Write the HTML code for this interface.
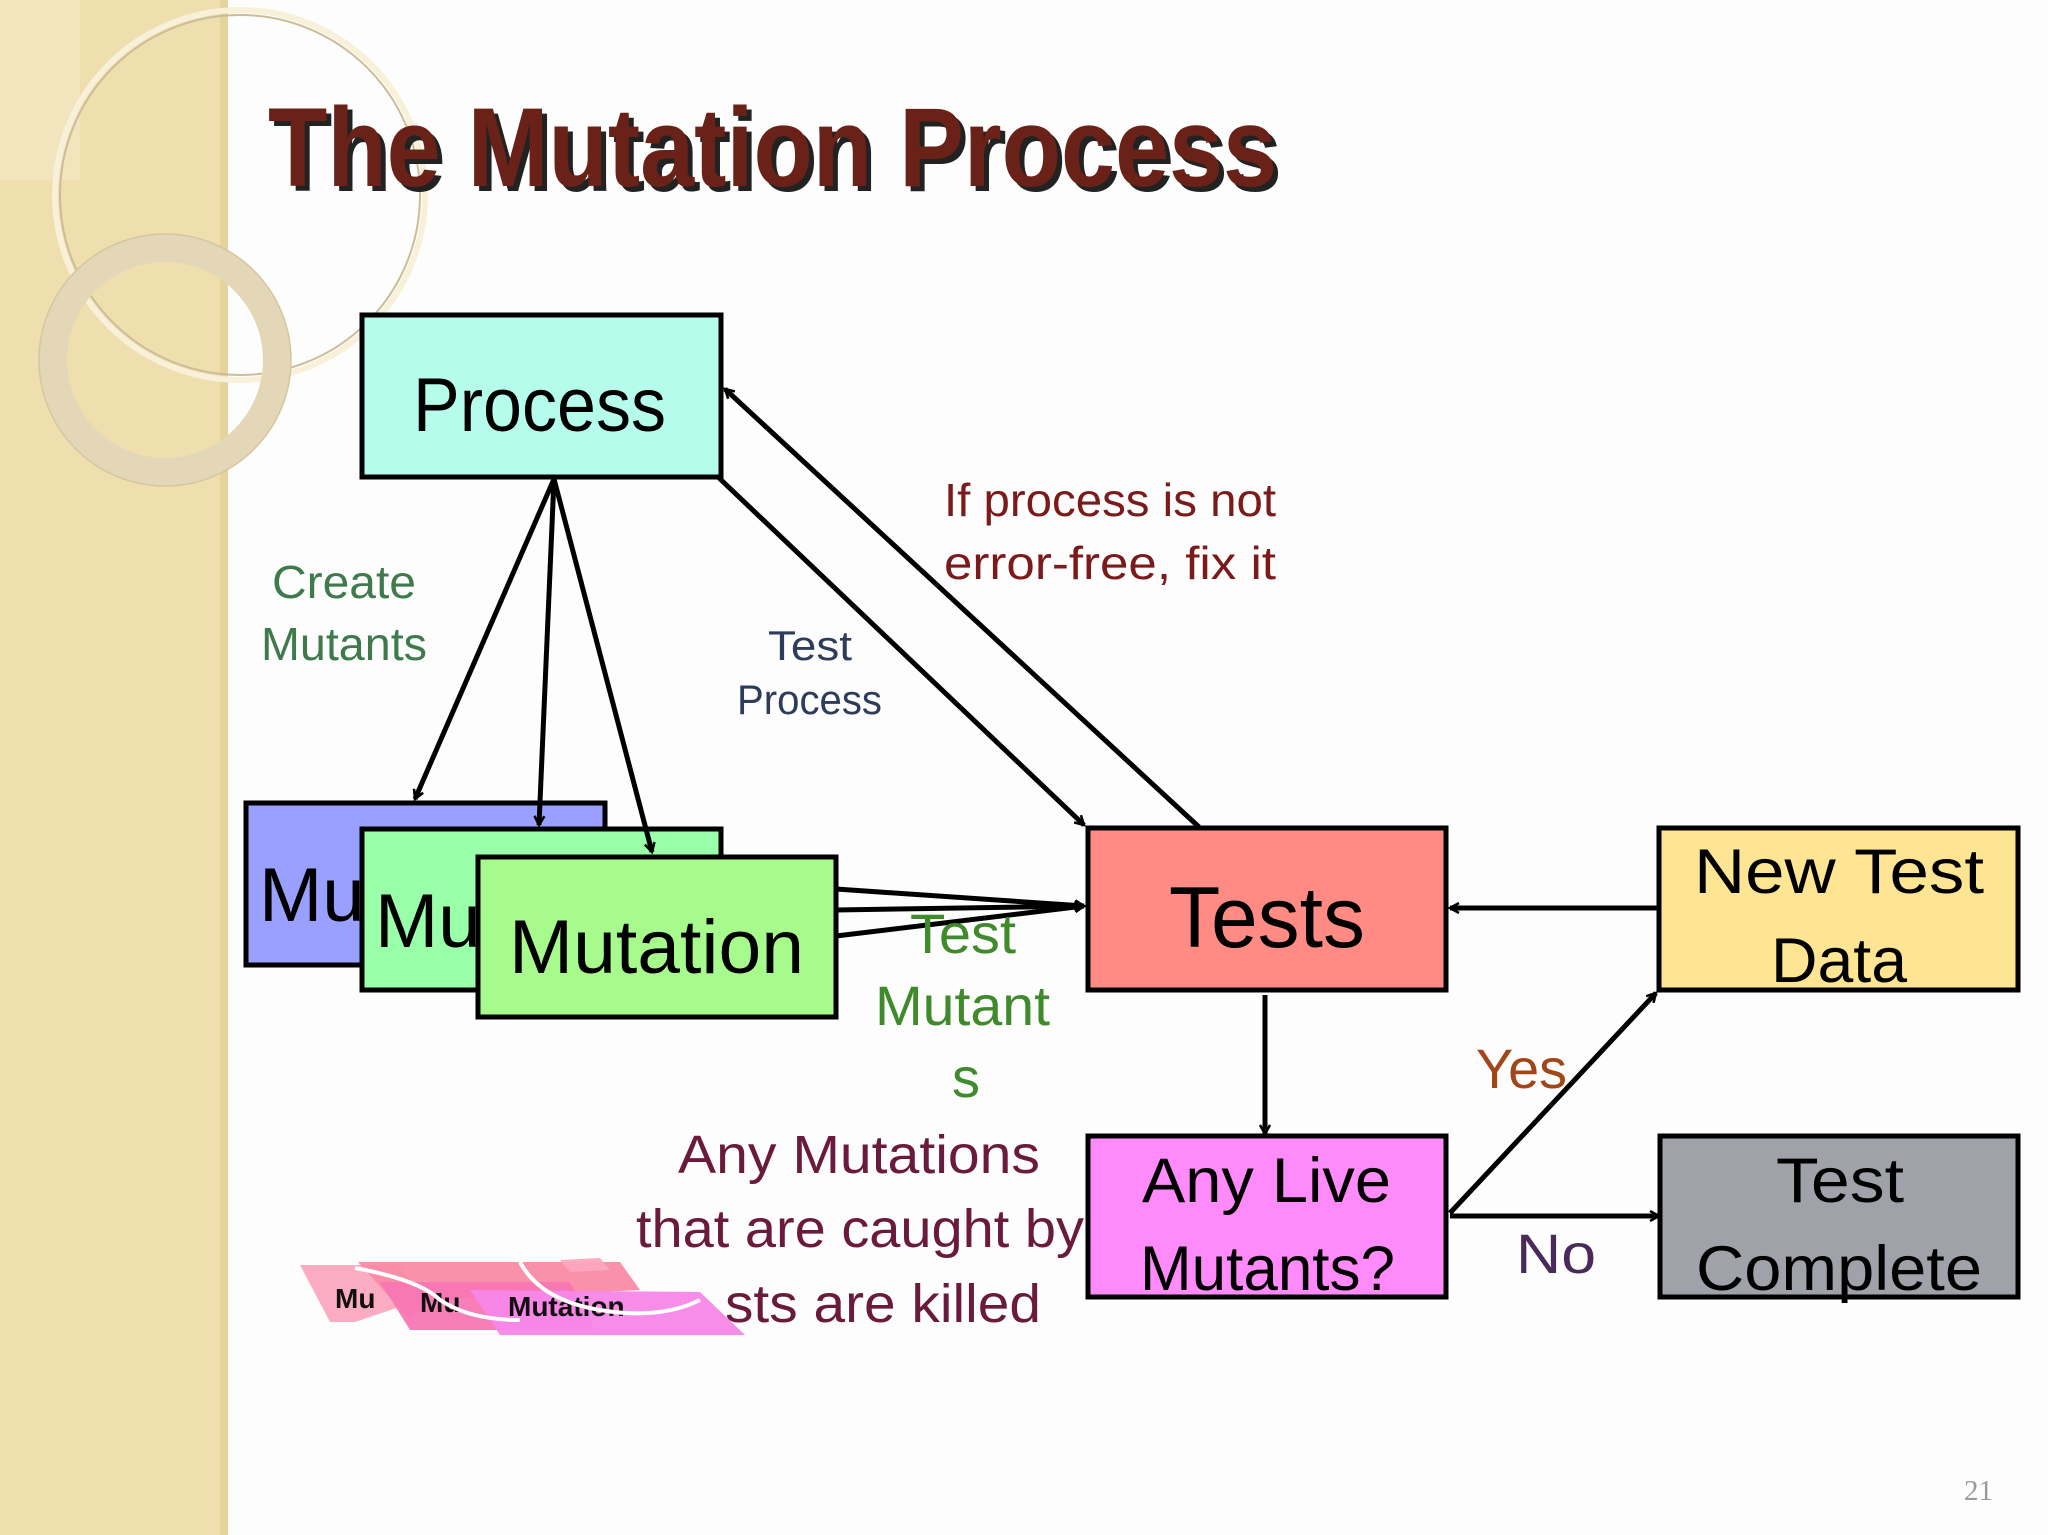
<!DOCTYPE html>
<html><head><meta charset="utf-8"><style>
html,body{margin:0;padding:0;background:#fff;}
svg{display:block;font-family:"Liberation Sans",sans-serif;}
</style></head><body>
<svg width="2048" height="1535" viewBox="0 0 2048 1535" xmlns="http://www.w3.org/2000/svg">
<defs>
<marker id="a" markerWidth="12" markerHeight="12" refX="10" refY="6" orient="auto" markerUnits="userSpaceOnUse">
<path d="M1,1 L10,6 L1,11" fill="none" stroke="#000" stroke-width="2.5"/>
</marker>
</defs>
<rect x="0" y="0" width="2048" height="1535" fill="#fdfdfd"/>
<rect x="0" y="0" width="227" height="1535" fill="#efdfae"/>
<rect x="220" y="0" width="8" height="1535" fill="#e6d39c"/>
<rect x="0" y="0" width="80" height="180" fill="#f3e6c2" opacity="0.7"/>
<circle cx="240" cy="195" r="185" fill="none" stroke="#f8f0d8" stroke-width="6"/>
<circle cx="240" cy="195" r="180" fill="none" stroke="#cbbd98" stroke-width="2"/>
<circle cx="165" cy="360" r="112" fill="none" stroke="#e4d7b8" stroke-width="28"/>
<circle cx="165" cy="360" r="126" fill="none" stroke="#d5c6a0" stroke-width="1.5"/>

<g font-size="112" font-weight="bold">
<text x="273" y="191" fill="#222" textLength="1009" lengthAdjust="spacingAndGlyphs">The Mutation Process</text>
<text x="268" y="186" fill="#6a2218" textLength="1009" lengthAdjust="spacingAndGlyphs">The Mutation Process</text>
</g>

<g stroke="#000" stroke-width="5">
<rect x="362" y="315" width="359" height="162" fill="#b6fced"/>
<rect x="246" y="803" width="359" height="162" fill="#99a0ff"/>
<rect x="362" y="829" width="359" height="161" fill="#99ffa8"/>
<rect x="478" y="857" width="358" height="160" fill="#a6fb8c"/>
<rect x="1088" y="828" width="358" height="162" fill="#ff8b84"/>
<rect x="1659" y="828" width="359" height="162" fill="#fee593"/>
<rect x="1088" y="1136" width="358" height="161" fill="#ff8bfa"/>
<rect x="1660" y="1136" width="358" height="161" fill="#a0a2aa"/>
</g>

<g stroke="#000" stroke-width="5" fill="none" marker-end="url(#a)">
<line x1="554" y1="479" x2="415" y2="799"/>
<line x1="554" y1="479" x2="539" y2="825"/>
<line x1="554" y1="479" x2="652" y2="852"/>
<line x1="718" y1="477" x2="1084" y2="825"/>
<line x1="1199" y1="827" x2="725" y2="389"/>
<line x1="836" y1="889" x2="1084" y2="906"/>
<line x1="836" y1="910" x2="1084" y2="906"/>
<line x1="836" y1="936" x2="1084" y2="906"/>
<line x1="1659" y1="908" x2="1450" y2="908"/>
<line x1="1265" y1="995" x2="1265" y2="1134"/>
<line x1="1450" y1="1213" x2="1656" y2="993"/>
<line x1="1450" y1="1216" x2="1659" y2="1216"/>
</g>

<g font-size="76" fill="#000">
<text x="413" y="431" textLength="253" lengthAdjust="spacingAndGlyphs">Process</text>
<text x="259" y="921">Mu</text>
<text x="375" y="947">Mu</text>
<text x="509" y="973" textLength="295" lengthAdjust="spacingAndGlyphs">Mutation</text>
<text x="1169" y="947" font-size="86" textLength="196" lengthAdjust="spacingAndGlyphs">Tests</text>
</g>
<g font-size="63" fill="#000">
<text x="1694" y="893" textLength="290" lengthAdjust="spacingAndGlyphs">New Test</text>
<text x="1771" y="982" textLength="136" lengthAdjust="spacingAndGlyphs">Data</text>
<text x="1142" y="1202" textLength="249" lengthAdjust="spacingAndGlyphs">Any Live</text>
<text x="1140" y="1290" textLength="255" lengthAdjust="spacingAndGlyphs">Mutants?</text>
<text x="1776" y="1202" textLength="128" lengthAdjust="spacingAndGlyphs">Test</text>
<text x="1696" y="1290" textLength="286" lengthAdjust="spacingAndGlyphs">Complete</text>
</g>

<g font-size="46" fill="#7a1a1a">
<text x="944" y="516" textLength="332" lengthAdjust="spacingAndGlyphs">If process is not</text>
<text x="944" y="579" textLength="332" lengthAdjust="spacingAndGlyphs">error-free, fix it</text>
</g>
<g font-size="46" fill="#3f7a4c">
<text x="272" y="598" textLength="144" lengthAdjust="spacingAndGlyphs">Create</text>
<text x="261" y="660" textLength="166" lengthAdjust="spacingAndGlyphs">Mutants</text>
</g>
<g font-size="42" fill="#2c3c5a">
<text x="768" y="660" textLength="84" lengthAdjust="spacingAndGlyphs">Test</text>
<text x="737" y="714" textLength="145" lengthAdjust="spacingAndGlyphs">Process</text>
</g>
<g font-size="56" fill="#3f8a2a">
<text x="910" y="953" textLength="106" lengthAdjust="spacingAndGlyphs">Test</text>
<text x="875" y="1025" textLength="175" lengthAdjust="spacingAndGlyphs">Mutant</text>
<text x="952" y="1097">s</text>
</g>

<g fill-opacity="0.95">
<polygon points="300,1265 400,1265 420,1300 355,1322 330,1322" fill="#fba8bf"/>
<polygon points="358,1262 620,1262 640,1290 430,1300 410,1320" fill="#f98ba6"/>
<polygon points="380,1282 570,1282 595,1330 410,1330" fill="#f877b4"/>
<polygon points="470,1290 700,1292 745,1335 500,1335" fill="#f887e8"/>
<polygon points="560,1260 600,1258 610,1270 570,1272" fill="#fba8bf"/>
</g>
<g font-size="28" fill="#111" font-weight="bold">
<text x="335" y="1308">Mu</text>
<text x="420" y="1312">Mu</text>
<text x="508" y="1316">Mutation</text>
</g>
<path d="M355,1268 Q420,1280 440,1300 Q470,1320 520,1320 M520,1262 Q540,1300 600,1310 Q660,1320 700,1300" stroke="#fff" stroke-width="4" fill="none"/>

<g font-size="54" fill="#6a1a3a">
<text x="678" y="1173" textLength="362" lengthAdjust="spacingAndGlyphs">Any Mutations</text>
<text x="636" y="1247" textLength="448" lengthAdjust="spacingAndGlyphs">that are caught by</text>
<text x="725" y="1322" textLength="316" lengthAdjust="spacingAndGlyphs">sts are killed</text>
</g>
<text x="1476" y="1088" font-size="56" fill="#a2461a" textLength="91" lengthAdjust="spacingAndGlyphs">Yes</text>
<text x="1516" y="1273" font-size="56" fill="#4a2a5a" textLength="80" lengthAdjust="spacingAndGlyphs">No</text>
<text x="1964" y="1500" font-size="29" fill="#999" font-family="Liberation Serif, serif">21</text>
</svg>
</body></html>
